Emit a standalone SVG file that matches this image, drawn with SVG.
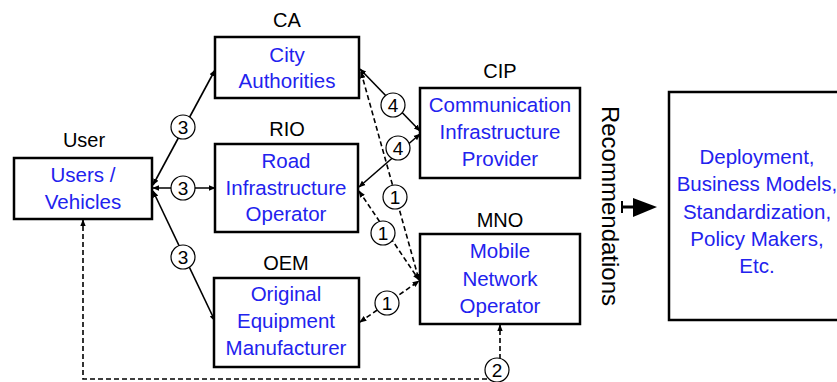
<svg xmlns="http://www.w3.org/2000/svg" width="837" height="382" viewBox="0 0 837 382">
  <style>
    .box { fill: #ffffff; stroke: #000000; stroke-width: 2.5; }
    .title { font-family: "Liberation Sans", Arial, sans-serif; font-size: 20px; fill: #000000; text-anchor: middle; }
    .side { font-family: "Liberation Sans", Arial, sans-serif; font-size: 24px; fill: #000000; text-anchor: middle; }
    .name { font-family: "Liberation Sans", Arial, sans-serif; font-size: 20.5px; fill: #2222ee; text-anchor: middle; }
    .link { fill: none; stroke: #000000; stroke-width: 1.6; }
    .dash { stroke-dasharray: 5 3; }
    .tag circle { fill: #ffffff; stroke: #000000; stroke-width: 1.2; }
    .tag text { font-family: "Liberation Sans", Arial, sans-serif; font-size: 19px; fill: #000000; text-anchor: middle; }
  </style>
  <defs>
    <marker id="tip" viewBox="0 0 10 10" refX="9" refY="5" markerWidth="7" markerHeight="7" markerUnits="userSpaceOnUse" orient="auto-start-reverse">
      <path d="M0,1 L10,5 L0,9 Z" fill="#000000"/>
    </marker>
  </defs>

  <rect width="837" height="382" fill="#ffffff"/>

  <!-- connectors -->
  <g id="connectors">
    <line class="link" x1="153" y1="185" x2="215" y2="70" marker-start="url(#tip)" marker-end="url(#tip)"/>
    <line class="link" x1="153" y1="188" x2="215" y2="188" marker-start="url(#tip)" marker-end="url(#tip)"/>
    <line class="link" x1="153" y1="191" x2="215" y2="321" marker-start="url(#tip)" marker-end="url(#tip)"/>
    <line class="link" x1="360" y1="69" x2="420" y2="131" marker-start="url(#tip)" marker-end="url(#tip)"/>
    <line class="link" x1="359" y1="187" x2="420" y2="134" marker-start="url(#tip)" marker-end="url(#tip)"/>
    <line class="link dash" x1="361" y1="72" x2="419" y2="280" marker-start="url(#tip)" marker-end="url(#tip)"/>
    <line class="link dash" x1="359" y1="191" x2="419" y2="280" marker-start="url(#tip)" marker-end="url(#tip)"/>
    <line class="link dash" x1="360" y1="322" x2="419" y2="281" marker-start="url(#tip)" marker-end="url(#tip)"/>
    <path class="link dash" d="M487,379 H83 V220" marker-end="url(#tip)"/>
    <line class="link dash" x1="500" y1="359" x2="500" y2="325" marker-end="url(#tip)"/>

    <g class="tag"><circle cx="183" cy="127" r="12"/><text x="183" y="134">3</text></g>
    <g class="tag"><circle cx="183" cy="188" r="12"/><text x="183" y="195">3</text></g>
    <g class="tag"><circle cx="183" cy="257" r="12"/><text x="183" y="264">3</text></g>
    <g class="tag"><circle cx="393" cy="105" r="12"/><text x="393" y="112">4</text></g>
    <g class="tag"><circle cx="398" cy="148" r="12"/><text x="398" y="155">4</text></g>
    <g class="tag"><circle cx="395" cy="197" r="12"/><text x="395" y="204">1</text></g>
    <g class="tag"><circle cx="383" cy="233" r="12"/><text x="383" y="240">1</text></g>
    <g class="tag"><circle cx="387" cy="303" r="12"/><text x="387" y="310">1</text></g>
    <g class="tag"><circle cx="497" cy="370" r="12"/><text x="497" y="377">2</text></g>
  </g>

  <g id="user">
    <text class="title" x="84" y="147">User</text>
    <rect class="box" x="14" y="158" width="138" height="61"/>
    <text class="name" x="83" y="182">Users /</text>
    <text class="name" x="83" y="209">Vehicles</text>
  </g>

  <g id="ca">
    <text class="title" x="287" y="27">CA</text>
    <rect class="box" x="215" y="37" width="144" height="61"/>
    <text class="name" x="287" y="62">City</text>
    <text class="name" x="287" y="88">Authorities</text>
  </g>

  <g id="rio">
    <text class="title" x="287" y="136">RIO</text>
    <rect class="box" x="215" y="144" width="143" height="88"/>
    <text class="name" x="286" y="168">Road</text>
    <text class="name" x="286" y="195">Infrastructure</text>
    <text class="name" x="286" y="221">Operator</text>
  </g>

  <g id="oem">
    <text class="title" x="286" y="270">OEM</text>
    <rect class="box" x="214" y="278" width="145" height="89"/>
    <text class="name" x="286" y="301">Original</text>
    <text class="name" x="286" y="328">Equipment</text>
    <text class="name" x="286" y="355">Manufacturer</text>
  </g>

  <g id="cip">
    <text class="title" x="500" y="78">CIP</text>
    <rect class="box" x="420" y="88" width="160" height="90"/>
    <text class="name" x="500" y="112">Communication</text>
    <text class="name" x="500" y="139">Infrastructure</text>
    <text class="name" x="500" y="166">Provider</text>
  </g>

  <g id="mno">
    <text class="title" x="500" y="227">MNO</text>
    <rect class="box" x="420" y="234" width="160" height="90"/>
    <text class="name" x="500" y="258">Mobile</text>
    <text class="name" x="500" y="286">Network</text>
    <text class="name" x="500" y="313">Operator</text>
  </g>

  <g id="recommendations">
    <text class="side" x="206" y="-602" transform="rotate(90)">Recommendations</text>
    <line x1="622" y1="201" x2="622" y2="213" stroke="#000000" stroke-width="2"/>
    <line x1="622" y1="207" x2="636" y2="207" stroke="#000000" stroke-width="3"/>
    <path d="M633,198 L657,207 L633,217 Z" fill="#000000"/>
  </g>

  <g id="targets">
    <rect class="box" x="669" y="92" width="190" height="228"/>
    <text class="name" x="757" y="164">Deployment,</text>
    <text class="name" x="757" y="191">Business Models,</text>
    <text class="name" x="757" y="219">Standardization,</text>
    <text class="name" x="757" y="246">Policy Makers,</text>
    <text class="name" x="757" y="273">Etc.</text>
  </g>
</svg>
